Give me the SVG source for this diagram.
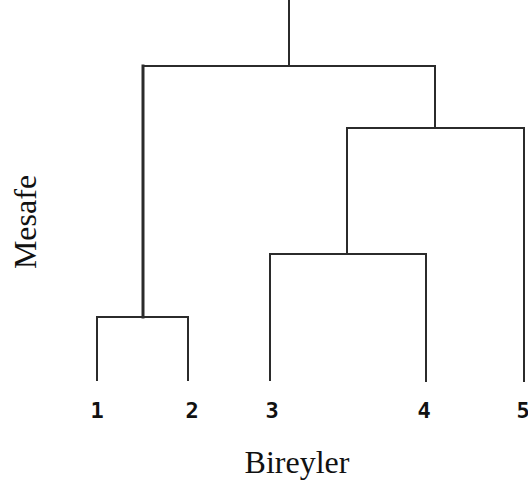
<svg xmlns="http://www.w3.org/2000/svg" width="528" height="482" viewBox="0 0 528 482">
<style>
.ln{stroke:#2b2b2b;stroke-width:2;fill:none;stroke-linecap:square}
.lb{font-family:"DejaVu Sans Mono",monospace;font-weight:bold;font-size:22px;fill:#111;text-anchor:middle}
.ax{font-family:"Liberation Serif",serif;font-size:32px;fill:#111;text-anchor:middle}
</style>
<rect width="528" height="482" fill="#fff"/>
<g id="connectors">
<path class="ln" d="M289,0 V66"/>
<path class="ln" d="M143,66 H435"/>
<path class="ln" style="stroke-width:3" d="M143,66 V317"/>
<path class="ln" d="M435,66 V128"/>
<path class="ln" d="M347,128 H524"/>
<path class="ln" d="M347,128 V254"/>
<path class="ln" d="M524,128 V381"/>
<path class="ln" d="M270,254 H426"/>
<path class="ln" d="M270,254 V380"/>
<path class="ln" d="M426,254 V381"/>
<path class="ln" d="M97,317 H188"/>
<path class="ln" d="M97,317 V380"/>
<path class="ln" d="M188,317 V380"/>
</g>
<g id="n1"><text class="lb" x="97" y="418">1</text></g>
<g id="n2"><text class="lb" x="192" y="418">2</text></g>
<g id="n3"><text class="lb" x="272" y="418">3</text></g>
<g id="n4"><text class="lb" x="424" y="418">4</text></g>
<g id="n5"><text class="lb" x="523" y="418">5</text></g>
<g id="yaxis"><text class="ax" transform="translate(36,222) rotate(-90)">Mesafe</text></g>
<g id="xaxis"><text class="ax" x="297" y="473">Bireyler</text></g>
</svg>
